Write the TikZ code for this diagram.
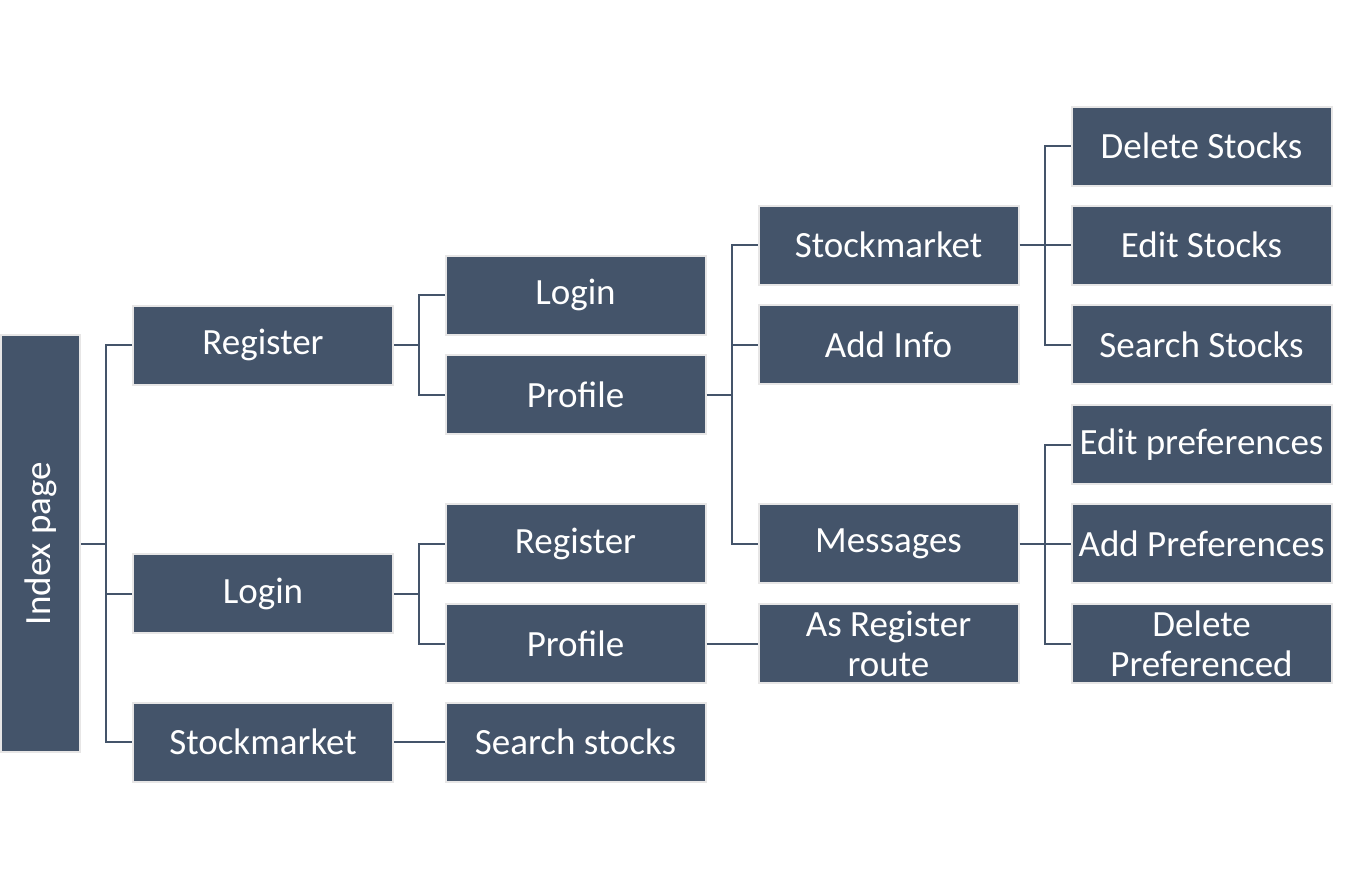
\documentclass[tikz,border=0pt]{standalone}
\usepackage{fontspec}
\setmainfont{Carlito}
\definecolor{boxfill}{HTML}{44546A}
\definecolor{boxedge}{HTML}{E7E6E6}
\begin{document}
\begin{tikzpicture}[x=1pt,y=-1pt,
  box/.style={draw=boxedge,line width=2pt,fill=boxfill,text=white,minimum width=260pt,minimum height=79pt,inner sep=0pt,align=center,font=\fontsize{37}{40}\selectfont},
  conn/.style={draw=boxfill,line width=2pt}]
\useasboundingbox (0,0) rectangle (1350,889);
% index
\node[box,minimum width=417pt,minimum height=79pt,rotate=90] (idx) at (40.5,543.5) {Index page};
% level 1
\node[box] (reg1) at (263,345) {Register};
\node[box] (log1) at (263,593.5) {Login};
\node[box] (stk1) at (263,742) {Stockmarket};
% level 2
\node[box] (log2) at (575.5,295) {Login};
\node[box] (pro2) at (575.5,394.5) {Profile};
\node[box] (reg2) at (575.5,543.5) {Register};
\node[box] (pro2b) at (575.5,643.5) {Profile};
\node[box] (srch2) at (575.5,742) {Search stocks};
% level 3
\node[box] (stk3) at (888.5,245) {Stockmarket};
\node[box] (add3) at (888.5,344.5) {Add Info};
\node[box] (msg3) at (888.5,543.5) {Messages};
\node[box] (asr3) at (888.5,643.5) {As Register\\route};
% level 4
\node[box] (del4) at (1201.5,146) {Delete Stocks};
\node[box] (edt4) at (1201.5,245) {Edit Stocks};
\node[box] (sch4) at (1201.5,344.5) {Search Stocks};
\node[box] (ep4) at (1201.5,444.5) {Edit preferences};
\node[box] (ap4) at (1201.5,543.5) {Add Preferences};
\node[box] (dp4) at (1201.5,643.5) {Delete\\Preferenced};
% junctions
\coordinate (j0) at (105.5,543.5);
\coordinate (j1) at (419,345);
\coordinate (j2) at (419,593.5);
\coordinate (j3) at (732,394.5);
\coordinate (j4) at (1045,245);
\coordinate (j5) at (1045,543.5);
% connectors
\draw[conn] (idx.south) -- (j0);
\draw[conn] (reg1.west) -| (j0) |- (stk1.west);
\draw[conn] (j0) |- (log1.west);
\draw[conn] (reg1.east) -- (j1);
\draw[conn] (log2.west) -| (j1) |- (pro2.west);
\draw[conn] (log1.east) -- (j2);
\draw[conn] (reg2.west) -| (j2) |- (pro2b.west);
\draw[conn] (stk1.east) -- (srch2.west);
\draw[conn] (pro2.east) -- (j3);
\draw[conn] (stk3.west) -| (j3) |- (msg3.west);
\draw[conn] (j3) |- (add3.west);
\draw[conn] (pro2b.east) -- (asr3.west);
\draw[conn] (stk3.east) -- (edt4.west);
\draw[conn] (del4.west) -| (j4) |- (sch4.west);
\draw[conn] (msg3.east) -- (ap4.west);
\draw[conn] (ep4.west) -| (j5) |- (dp4.west);
\end{tikzpicture}
\end{document}
